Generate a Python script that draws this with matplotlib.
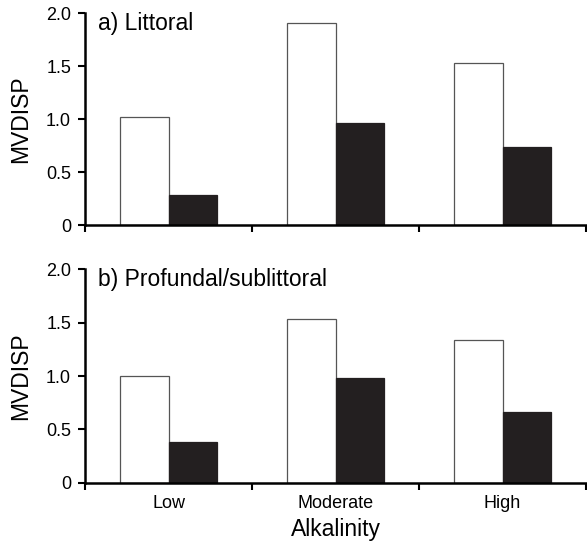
import matplotlib
matplotlib.use("Agg")
import matplotlib.pyplot as plt
import numpy as np

categories = ["Low", "Moderate", "High"]
littoral_open = [1.02, 1.91, 1.53]
littoral_filled = [0.28, 0.965, 0.74]
profundal_open = [1.00, 1.53, 1.335]
profundal_filled = [0.38, 0.98, 0.66]
panel_titles = ["a) Littoral", "b) Profundal/sublittoral"]
y_ticks = [0, 0.5, 1.0, 1.5, 2.0]
y_ticklabels = ["0", "0.5", "1.0", "1.5", "2.0"]

plt.rcParams['font.family'] = ['Liberation Sans', 'DejaVu Sans']

W, H = 587, 544
fig = plt.figure(figsize=(W / 100, H / 100), dpi=100)

def px_axes(x0, y_top, x1, y_bot):
    return [x0 / W, 1 - y_bot / H, (x1 - x0) / W, (y_bot - y_top) / H]

ax1 = fig.add_axes(px_axes(85, 13.3, 586, 225))
ax2 = fig.add_axes(px_axes(85, 269.3, 586, 482.7))

bw = 0.29
centers = np.arange(len(categories)) + 0.5
data = [(littoral_open, littoral_filled), (profundal_open, profundal_filled)]

for ax, (op, fl), title in zip([ax1, ax2], data, panel_titles):
    ax.bar(centers - bw / 2, op, width=bw, color="white", edgecolor="#555555", linewidth=0.9, zorder=2)
    ax.bar(centers + bw / 2, fl, width=bw, color="#231f20", edgecolor="#231f20", linewidth=0.9, zorder=2)
    ax.set_xlim(0, 3)
    ax.set_ylim(0, 2.0)
    ax.set_yticks(y_ticks)
    ax.set_yticklabels(y_ticklabels, fontsize=13)
    ax.set_xticks([0, 1, 2, 3])
    ax.set_xticklabels([])
    ax.set_xticks(centers, minor=True)
    ax.tick_params(axis="x", which="minor", length=0, labelsize=13, pad=9)
    ax.tick_params(axis="both", which="major", length=5, width=1.5, direction="out", pad=5)
    for s in ["top", "right"]:
        ax.spines[s].set_visible(False)
    for s in ["left", "bottom"]:
        ax.spines[s].set_linewidth(1.8)
    ax.set_ylabel("MVDISP", fontsize=16.5, labelpad=10)
    ax.text(0.026, 0.95, title, transform=ax.transAxes, fontsize=16.5, ha="left", va="center")

ax2.set_xticklabels(categories, minor=True)
ax2.set_xlabel("Alkalinity", fontsize=16.5, labelpad=4)

fig.savefig("out.png", dpi=100)
